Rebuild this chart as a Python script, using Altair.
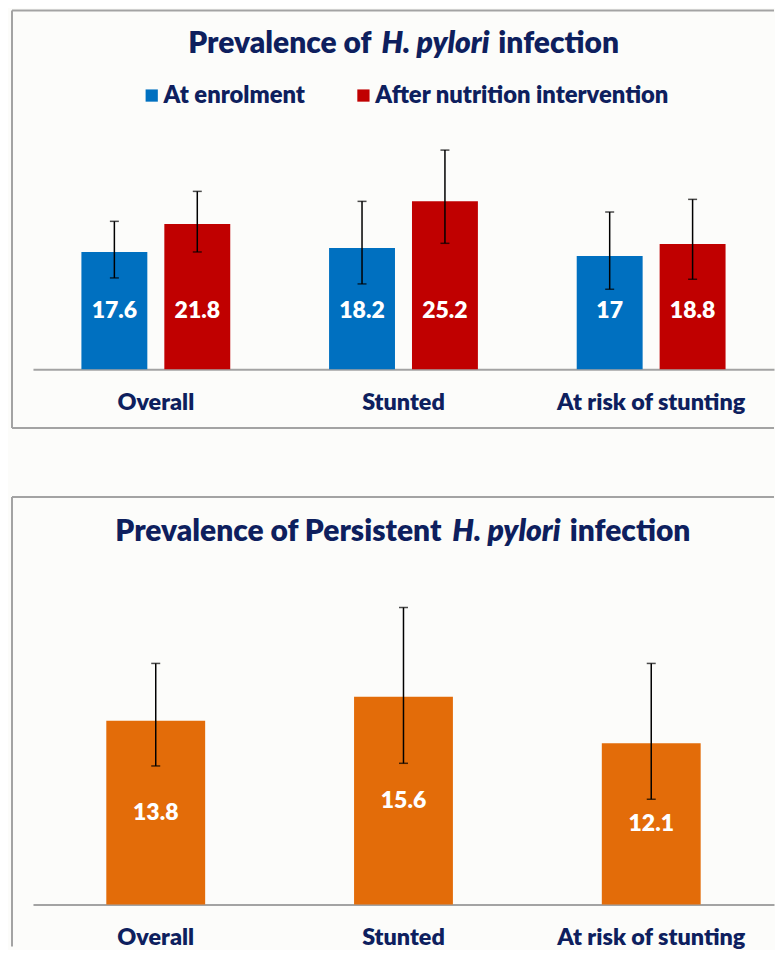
import altair as alt
import pandas as pd

# ---------------- data ----------------
categories = ["Overall", "Stunted", "At risk of stunting"]
groups = ["At enrolment", "After nutrition intervention"]

enrol = [17.6, 18.2, 17.0]
enrol_lo = [13.7, 12.8, 12.0]
enrol_hi = [22.2, 25.2, 23.6]

after = [21.8, 25.2, 18.8]
after_lo = [17.6, 18.9, 13.5]
after_hi = [26.7, 32.9, 25.5]

persist = [13.8, 15.6, 12.1]
persist_lo = [10.4, 10.6, 7.9]
persist_hi = [18.1, 22.3, 18.1]

# ---------------- styles ----------------
NAVY = "#0E1F5E"
FONT = "Lato"
WEIGHT = 800
GRID = "#A3A3A3"
BLUE, RED, ORANGE = "#0070C0", "#C00000", "#E36C09"
W = 742
H1, H2 = 240, 320

rows = []
for i, c in enumerate(categories):
    rows.append(dict(cat=c, grp=groups[0], val=enrol[i], lo=enrol_lo[i], hi=enrol_hi[i]))
    rows.append(dict(cat=c, grp=groups[1], val=after[i], lo=after_lo[i], hi=after_hi[i]))
top_df = pd.DataFrame(rows)
top_df["label"] = top_df["val"].map(lambda v: f"{v:g}")

bot_df = pd.DataFrame(dict(cat=categories, val=persist, lo=persist_lo, hi=persist_hi))
bot_df["label"] = bot_df["val"].map(lambda v: f"{v:g}")

one = pd.DataFrame({"k": [0]})

axis_x = alt.Axis(title=None, labelAngle=0, labelFont=FONT, labelFontSize=23.4,
                  labelFontWeight=WEIGHT, labelColor=NAVY, labelPadding=22,
                  ticks=False, tickSize=0, domainColor=GRID, domainWidth=2,
                  labelLimit=500, grid=False)


def deco_text(txt, x, y, align, italic=False, size=30):
    return alt.Chart(one).mark_text(
        text=txt, font=FONT, fontSize=size, fontWeight=WEIGHT,
        fontStyle="italic" if italic else "normal", color=NAVY,
        align=align, baseline="alphabetic"
    ).encode(x=alt.value(x), y=alt.value(y))


def border(x1, x2, ytop, ybot, with_bottom):
    layers = [
        alt.Chart(one).mark_rule(color=GRID, strokeWidth=2).encode(
            x=alt.value(x1), x2=alt.value(x2), y=alt.value(ytop)),
        alt.Chart(one).mark_rule(color=GRID, strokeWidth=2).encode(
            x=alt.value(x1), y=alt.value(ytop), y2=alt.value(ybot)),
    ]
    if with_bottom:
        layers.append(alt.Chart(one).mark_rule(color=GRID, strokeWidth=2).encode(
            x=alt.value(x1), x2=alt.value(x2), y=alt.value(ybot)))
    return layers

# ---------------- top chart ----------------
xt = alt.X("cat:N", sort=categories,
           scale=alt.Scale(paddingInner=0.399, paddingOuter=0.1956), axis=axis_x)
xo = alt.XOffset("grp:N", sort=groups, scale=alt.Scale(paddingInner=0.205, paddingOuter=0))
yscale_t = alt.Scale(domain=[0, 36], nice=False, zero=True)

tb = alt.Chart(top_df)
top_bars = tb.mark_bar().encode(
    x=xt, xOffset=xo,
    y=alt.Y("val:Q", scale=yscale_t, axis=None),
    color=alt.Color("grp:N", sort=groups,
                    scale=alt.Scale(domain=groups, range=[BLUE, RED]),
                    legend=alt.Legend(orient="none", legendX=107, legendY=-46,
                                      direction="horizontal", title=None,
                                      symbolType="square", symbolSize=150,
                                      symbolStrokeWidth=0, labelFont=FONT,
                                      labelFontSize=23.8, labelFontWeight=WEIGHT,
                                      labelColor=NAVY, labelLimit=500,
                                      labelOffset=0, columnPadding=46)),
)
top_err = tb.mark_rule(color="black", strokeWidth=1.5).encode(
    x=xt, xOffset=xo, y=alt.Y("lo:Q", scale=yscale_t, axis=None), y2="hi:Q")
top_cap_hi = tb.mark_tick(color="black", thickness=1.5, size=9).encode(
    x=xt, xOffset=xo, y=alt.Y("hi:Q", scale=yscale_t, axis=None))
top_cap_lo = tb.mark_tick(color="black", thickness=1.5, size=9).encode(
    x=xt, xOffset=xo, y=alt.Y("lo:Q", scale=yscale_t, axis=None))
top_lab = tb.transform_calculate(pos="8.7").mark_text(
    color="white", font=FONT, fontSize=23, fontWeight=WEIGHT, baseline="middle"
).encode(x=xt, xOffset=xo, y=alt.Y("pos:Q", scale=yscale_t, axis=None), text="label:N")

top = alt.layer(
    *border(-21, W, -119, 299, True),
    deco_text("Prevalence of", 339, -77, "right"),
    deco_text("H. pylori", 403, -77, "center", italic=True),
    deco_text("infection", 466, -77, "left"),
    top_bars, top_err, top_cap_hi, top_cap_lo, top_lab,
).properties(width=W, height=H1)

# ---------------- bottom chart ----------------
xb = alt.X("cat:N", sort=categories,
           scale=alt.Scale(paddingInner=0.601, paddingOuter=0.296), axis=axis_x)
yscale_b = alt.Scale(domain=[0, 24], nice=False, zero=True)

bb = alt.Chart(bot_df)
bot_bars = bb.mark_bar(color=ORANGE).encode(
    x=xb, y=alt.Y("val:Q", scale=yscale_b, axis=None))
bot_err = bb.mark_rule(color="black", strokeWidth=1.5).encode(
    x=xb, y=alt.Y("lo:Q", scale=yscale_b, axis=None), y2="hi:Q")
bot_cap_hi = bb.mark_tick(color="black", thickness=1.5, size=9).encode(
    x=xb, y=alt.Y("hi:Q", scale=yscale_b, axis=None))
bot_cap_lo = bb.mark_tick(color="black", thickness=1.5, size=9).encode(
    x=xb, y=alt.Y("lo:Q", scale=yscale_b, axis=None))
bot_lab = bb.transform_calculate(pos="datum.val / 2").mark_text(
    color="white", font=FONT, fontSize=23, fontWeight=WEIGHT, baseline="middle"
).encode(x=xb, y=alt.Y("pos:Q", scale=yscale_b, axis=None), text="label:N")

bottom = alt.layer(
    *border(-21, W, -88, 362, False),
    deco_text("Prevalence of Persistent", 409, -44, "right"),
    deco_text("H. pylori", 474, -44, "center", italic=True),
    deco_text("infection", 537.5, -44, "left"),
    bot_bars, bot_err, bot_cap_hi, bot_cap_lo, bot_lab,
).properties(width=W, height=H2)

chart = alt.vconcat(top, bottom, spacing=67).properties(
    padding={"left": 3, "top": 1, "right": 0, "bottom": 0},
    background="#FCFCFA",
).configure_view(stroke=None).resolve_scale(x="independent", y="independent", color="independent")

chart.save("out.html", embed_options={"renderer": "svg", "actions": False})
